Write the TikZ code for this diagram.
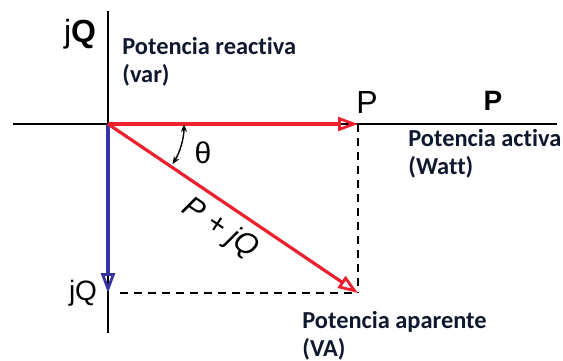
\documentclass[tikz,border=0pt]{standalone}
\usepackage{fontspec}
\setmainfont{Liberation Sans}
\newfontfamily\labelfont[Ligatures=NoCommon]{Carlito}
\usepackage{tikz}
\usetikzlibrary{calc, positioning, arrows.meta}
\usepackage{xcolor}
\definecolor{vecP}{RGB}{237, 32, 45}
\definecolor{vecQ}{RGB}{52, 52, 168}
\definecolor{txtDark}{RGB}{16, 24, 48}

\begin{document}
\begin{tikzpicture}[x=0.5pt, y=-0.5pt, font=\fontsize{14}{16}\selectfont,
    axis/.style={line width=1pt, black},
    phasor/.style={line width=1.6pt, -{Triangle[open, length=10pt, width=7pt, line width=1.4pt]}},
    guide/.style={line width=1pt, dash pattern=on 4pt off 3pt},
    note/.style={font=\labelfont\bfseries\fontsize{12.2}{14}\selectfont, text=txtDark, align=left, inner sep=0pt}]
  \useasboundingbox (0,0) rectangle (563,360);
  % power triangle
  \coordinate (O) at (108,124);
  \coordinate (P) at (358,124);
  \coordinate (Q) at (108,293);
  \coordinate (S) at (358,293);
  \coordinate (top) at (108,11);
  \coordinate (bot) at (108,333);
  \coordinate (left) at (13,124);
  \coordinate (right) at (557,124);
  \draw[axis] (top) -- (bot);
  \draw[axis] (left) -- (right);
  \draw[guide] (P) -- (S);
  \draw[guide, shorten <=6pt] (Q) -- (S);
  \draw[phasor, vecQ] (O) -- (Q);
  \draw[phasor, vecP] (O) -- (P);
  \draw[phasor, vecP] (O) -- (S);
  \draw[line width=0.7pt, {Stealth[length=4pt]}-{Stealth[length=4pt]}] ($(O)+(76,0)$) arc[start angle=0, end angle=32, radius=76];
  \node (theta) at (203,153) {\fontsize{15}{16}\selectfont θ};
  \node (PjQ) at (220,229) [rotate=-34] {\fontsize{15}{16}\selectfont\itshape P + jQ};
  \node (Plab) at (367,102) {\fontsize{16}{18}\selectfont P};
  \node (jQlab) at (83,293) {jQ};
  \node (Pax) at (493,101) {\bfseries P};
  \node (Qax) at (80,34) {\fontsize{16}{18}\selectfont j\textbf{Q}};
  \node[note, anchor=north west] (reactiva) at (122,37) {Potencia reactiva\\(var)};
  \node[note, anchor=north west] (activa) at (408,129) {Potencia activa\\(Watt)};
  \node[note, anchor=north west] (aparente) at (302,311) {Potencia aparente\\(VA)};
\end{tikzpicture}
\end{document}
